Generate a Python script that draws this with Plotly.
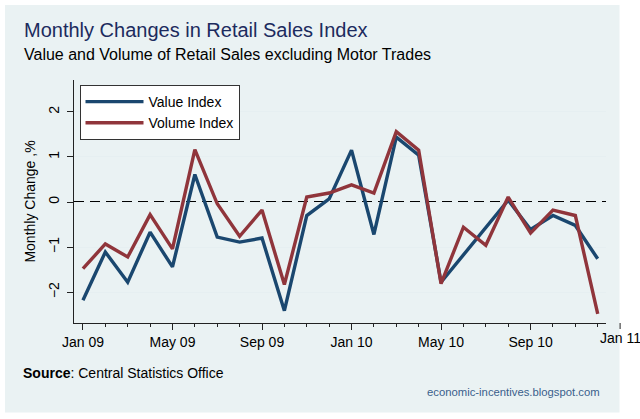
import plotly.graph_objects as go

months = ["Jan 09", "Feb 09", "Mar 09", "Apr 09", "May 09", "Jun 09", "Jul 09", "Aug 09",
          "Sep 09", "Oct 09", "Nov 09", "Dec 09", "Jan 10", "Feb 10", "Mar 10", "Apr 10",
          "May 10", "Jun 10", "Jul 10", "Aug 10", "Sep 10", "Oct 10", "Nov 10", "Dec 10"]
value_index = [-2.18, -1.11, -1.78, -0.67, -1.44, 0.61, -0.78, -0.89, -0.80, -2.41, -0.30, 0.07,
               1.15, -0.72, 1.44, 1.04, -1.78, -1.18, -0.56, 0.04, -0.61, -0.30, -0.52, -1.26]
volume_index = [-1.48, -0.93, -1.22, -0.28, -1.04, 1.16, -0.04, -0.76, -0.18, -1.83, 0.11, 0.20,
                0.38, 0.20, 1.56, 1.15, -1.81, -0.56, -0.96, 0.11, -0.69, -0.18, -0.30, -2.48]
y_ticks = [-2, -1, 0, 1, 2]
extra_tick_label = "Jan 11"

x = list(range(len(months)))
tickvals = [i for i, m in enumerate(months) if m[:3] in ("Jan", "May", "Sep")]
ticktext = [months[i] for i in tickvals]
extra_tick = len(months)  # Jan 11 position

W, H = 640, 419
ML, MR, MT, MB = 74, 34, 80, 96
XR = [-0.40, 23.37]
YR = [-2.684, 2.706]
FONT = "Liberation Sans, Arial, Helvetica, sans-serif"
BLUE = "#1a476f"
RED = "#90353b"
PANEL = "#eaf2f3"

pw = W - ML - MR
ph = H - MT - MB

def px_to_paper_x(px):
    return (px - ML) / pw

def px_to_paper_y(py):
    return 1 - (py - MT) / ph

fig = go.Figure()
fig.add_trace(go.Scatter(x=x, y=value_index, mode="lines", name="Value Index",
                         line=dict(color=BLUE, width=3.4)))
fig.add_trace(go.Scatter(x=x, y=volume_index, mode="lines", name="Volume Index",
                         line=dict(color=RED, width=3.4)))

# panel background
fig.add_shape(type="rect", xref="paper", yref="paper",
              x0=px_to_paper_x(5), x1=px_to_paper_x(619.5),
              y0=px_to_paper_y(412.5), y1=px_to_paper_y(5),
              fillcolor=PANEL, line=dict(width=0), layer="below")
# dashed zero line
fig.add_shape(type="line", xref="paper", yref="y", x0=0, x1=1, y0=0, y1=0,
              line=dict(color="#000", width=2, dash="10px,6px"), layer="between")

# extra tick beyond plot (Jan 11)
xt = (extra_tick - XR[0]) / (XR[1] - XR[0])
fig.add_shape(type="line", xref="paper", yref="paper", x0=xt, x1=xt,
              y0=0, y1=-6 / ph, line=dict(color="#222", width=1))
fig.add_annotation(xref="paper", yref="paper", x=xt, y=-15 / ph, text=extra_tick_label,
                   showarrow=False, xanchor="center", yanchor="middle",
                   font=dict(family=FONT, size=14, color="black"))

# titles and notes
fig.add_annotation(xref="paper", yref="paper", x=px_to_paper_x(22), y=px_to_paper_y(30),
                   text="Monthly Changes in Retail Sales Index", showarrow=False,
                   xanchor="left", yanchor="middle",
                   font=dict(family=FONT, size=20, color="#1c2b5e"))
fig.add_annotation(xref="paper", yref="paper", x=px_to_paper_x(22), y=px_to_paper_y(54),
                   text="Value and Volume of Retail Sales excluding Motor Trades", showarrow=False,
                   xanchor="left", yanchor="middle",
                   font=dict(family=FONT, size=16, color="black"))
fig.add_annotation(xref="paper", yref="paper", x=px_to_paper_x(21), y=px_to_paper_y(373),
                   text="<b>Source</b>: Central Statistics Office", showarrow=False,
                   xanchor="left", yanchor="middle",
                   font=dict(family=FONT, size=14, color="black"))
fig.add_annotation(xref="paper", yref="paper", x=px_to_paper_x(602), y=px_to_paper_y(392),
                   text="economic-incentives.blogspot.com", showarrow=False,
                   xanchor="right", yanchor="middle",
                   font=dict(family=FONT, size=11.3, color="#3a5f8c"))

fig.update_layout(
    width=W, height=H,
    margin=dict(l=ML, r=MR, t=MT, b=MB, pad=0),
    paper_bgcolor="white",
    plot_bgcolor="white",
    font=dict(family=FONT, size=14, color="black"),
    showlegend=True,
    legend=dict(x=px_to_paper_x(79.5), y=px_to_paper_y(85), xanchor="left", yanchor="top",
                bgcolor="white", bordercolor="#333", borderwidth=1,
                font=dict(family=FONT, size=14, color="black"),
                itemwidth=58, tracegroupgap=0),
    xaxis=dict(range=XR, tickmode="array", tickvals=tickvals, ticktext=ticktext,
               ticks="outside", ticklen=6, tickcolor="#222", tickwidth=1,
               showline=True, linecolor="#222", linewidth=1, showgrid=False, zeroline=False,
               minor=dict(dtick=1, tick0=0, ticks="outside", ticklen=3, tickcolor="#222",
                          showgrid=False),
               tickfont=dict(family=FONT, size=14, color="black")),
    yaxis=dict(range=YR, tickmode="array", tickvals=y_ticks,
               ticks="outside", ticklen=6, tickcolor="#222", tickwidth=1, tickangle=-90,
               ticklabelstandoff=2,
               showline=True, linecolor="#222", linewidth=1,
               showgrid=True, gridcolor="#e6eff1", gridwidth=1, zeroline=False,
               title=dict(text="Monthly Change ,%", font=dict(family=FONT, size=14, color="black"),
                          standoff=7),
               tickfont=dict(family=FONT, size=14, color="black")),
)

fig.write_html("out.html")
